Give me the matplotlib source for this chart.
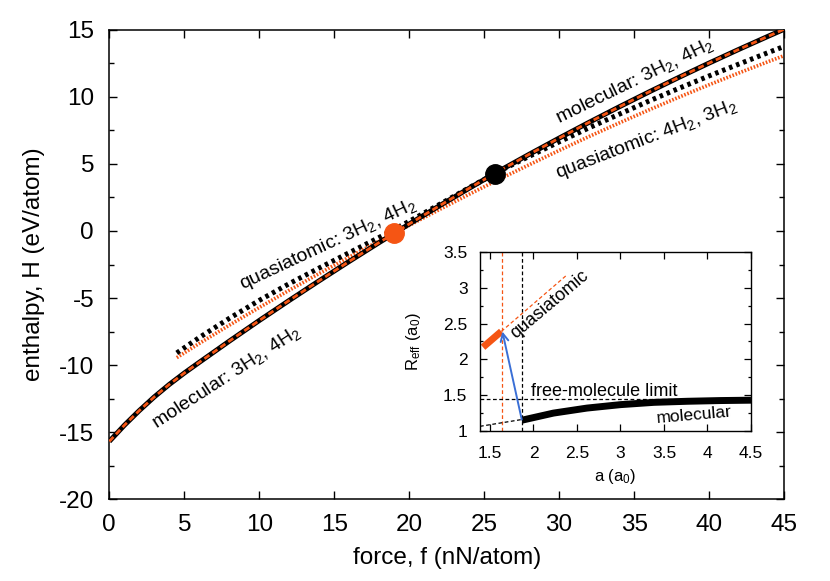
import matplotlib
matplotlib.use('Agg')
import matplotlib.pyplot as plt
from matplotlib.ticker import MultipleLocator

plt.rcParams['font.family'] = ['Liberation Sans', 'DejaVu Sans']
plt.rcParams['mathtext.fontset'] = 'custom'
plt.rcParams['mathtext.rm'] = 'Liberation Sans'
plt.rcParams['mathtext.it'] = 'Liberation Sans:italic'
plt.rcParams['axes.unicode_minus'] = False

orange = '#f55514'
blue = '#3a6fd6'

# main panel: enthalpy vs force
f_mol = [0, 1, 2, 3, 4, 5, 6, 8, 10, 12, 14, 16, 18, 20, 22, 24, 26, 28, 30,
         32, 34, 36, 38, 40, 42, 44, 45]
H_mol = [-15.7, -14.5, -13.4, -12.38, -11.45, -10.6, -9.8, -8.22, -6.68, -5.18,
         -3.71, -2.27, -0.86, 0.52, 1.87, 3.19, 4.48, 5.72, 6.93, 8.11, 9.26,
         10.38, 11.47, 12.53, 13.56, 14.56, 15.05]

f_qa = [4.5, 6, 8, 10, 12, 14, 16, 18, 20, 22, 24, 26, 28, 30, 32, 34, 36, 38,
        40, 42, 44, 45]
H_qa3 = [-9.1, -7.95, -6.52, -5.18, -3.93, -2.76, -1.62, -0.48, 0.72, 1.97, 3.23,
         4.46, 5.57, 6.65, 7.7, 8.71, 9.7, 10.65, 11.57, 12.46, 13.34, 13.77]
H_qa4 = [-9.45, -8.39, -7.03, -5.71, -4.42, -3.17, -1.95, -0.75, 0.42, 1.59, 2.74,
         3.86, 4.94, 6.01, 7.05, 8.06, 9.04, 9.99, 10.91, 11.8, 12.66, 13.08]

trans_4 = (19.0, -0.12)
trans_3 = (25.7, 4.25)

# inset: effective radius vs lattice spacing
a_qa = [1.42, 1.63]
R_qa = [2.17, 2.39]
a_qa_ext = [1.63, 2.385]
R_qa_ext = [2.39, 3.18]
a_mol = [1.865, 2.23, 2.615, 3.0, 3.385, 3.77, 4.15, 4.5]
R_mol = [1.15, 1.25, 1.32, 1.368, 1.40, 1.415, 1.425, 1.43]
a_mol_ext = [1.385, 1.865]
R_mol_ext = [1.065, 1.16]
R_free = 1.44
a_crit_qa = 1.642
a_crit_mol = 1.865

fig = plt.figure(figsize=(8.3, 5.81), dpi=100)
ax = fig.add_axes([0.1317, 0.1411, 0.8129, 0.8073])

ax.plot(f_mol, H_mol, color='black', lw=3.6, solid_capstyle='butt', zorder=3)
ax.plot(f_mol, H_mol, color=orange, lw=2.0, dashes=(2.2, 1.3), zorder=4)
ax.plot(f_qa, H_qa3, color='black', lw=3.6, dashes=(0.7, 0.8), zorder=2)
ax.plot(f_qa, H_qa4, color=orange, lw=2.6, dashes=(0.45, 0.45), zorder=2)
ax.plot(*trans_4, 'o', color=orange, ms=14, zorder=5)
ax.plot(*trans_3, 'o', color='black', ms=14, zorder=5)

ax.text(14.6, -1.0, r'quasiatomic: 3H$_\mathregular{2}$, 4H$_\mathregular{2}$', rotation=25,
        ha='center', va='center', fontsize=14, rotation_mode='anchor')
ax.text(7.8, -10.9, r'molecular: 3H$_\mathregular{2}$, 4H$_\mathregular{2}$', rotation=33,
        ha='center', va='center', fontsize=14, rotation_mode='anchor')
ax.text(35.0, 11.2, r'molecular: 3H$_\mathregular{2}$, 4H$_\mathregular{2}$', rotation=26,
        ha='center', va='center', fontsize=14, rotation_mode='anchor')
ax.text(35.8, 6.8, r'quasiatomic: 4H$_\mathregular{2}$, 3H$_\mathregular{2}$', rotation=21,
        ha='center', va='center', fontsize=14, rotation_mode='anchor')

ax.set_xlim(0, 45)
ax.set_ylim(-20, 15)
ax.xaxis.set_major_locator(MultipleLocator(5))
ax.yaxis.set_major_locator(MultipleLocator(5))
ax.yaxis.set_minor_locator(MultipleLocator(2.5))
ax.tick_params(which='both', direction='in', top=True, right=True, width=1, labelsize=17.5, pad=11)
ax.tick_params(which='major', length=6)
ax.tick_params(which='minor', length=3.5)
for s in ax.spines.values():
    s.set_linewidth(1.1)
ax.set_xlabel('force, f (nN/atom)', fontsize=17.5, labelpad=8)
ax.set_ylabel('enthalpy, H (eV/atom)', fontsize=17.5, labelpad=10)

# inset
ins = fig.add_axes([0.5783, 0.2582, 0.3265, 0.3081])
ins.axvline(a_crit_qa, color=orange, lw=0.9, dashes=(3, 2))
ins.axvline(a_crit_mol, color='black', lw=0.9, dashes=(3, 2))
ins.axhline(R_free, color='black', lw=0.9, dashes=(3, 2))
ins.plot(a_mol_ext, R_mol_ext, color='black', lw=0.9, dashes=(3, 2))
ins.plot(a_qa_ext, R_qa_ext, color=orange, lw=0.9, dashes=(3, 2))
ins.plot(a_qa, R_qa, color=orange, lw=5, solid_capstyle='butt')
ins.plot(a_mol, R_mol, color='black', lw=5, solid_capstyle='butt')
ins.annotate('', xy=(a_crit_qa, R_qa[-1]), xytext=(a_crit_mol, R_mol[0] + 0.01),
             arrowprops=dict(arrowstyle='->', color=blue, lw=1.4, mutation_scale=14,
                             shrinkA=0, shrinkB=0))
ins.text(2.19, 2.76, 'quasiatomic', rotation=40, ha='center', va='center',
         fontsize=13, rotation_mode='anchor')
ins.text(2.81, 1.55, 'free-molecule limit', ha='center', va='center', fontsize=13)
ins.text(3.85, 1.225, 'molecular', rotation=5, ha='center', va='center',
         fontsize=12.5, rotation_mode='anchor')

ins.set_xlim(1.385, 4.5)
ins.set_ylim(1, 3.5)
ins.yaxis.set_minor_locator(MultipleLocator(0.25))
ins.set_xticks([1.5, 2, 2.5, 3, 3.5, 4, 4.5], ['1.5', '2', '2.5', '3', '3.5', '4', '4.5'])
ins.set_yticks([1, 1.5, 2, 2.5, 3, 3.5], ['1', '1.5', '2', '2.5', '3', '3.5'])
ins.tick_params(which='both', direction='in', top=True, right=True, width=0.9, labelsize=12.5)
ins.tick_params(axis='x', pad=11)
ins.tick_params(axis='y', pad=9)
ins.tick_params(which='major', length=5)
ins.tick_params(which='minor', length=2.5)
for s in ins.spines.values():
    s.set_linewidth(1.0)
ins.set_xlabel(r'a (a$_\mathregular{0}$)', fontsize=12, labelpad=4)
ins.set_ylabel(r'R$_\mathregular{eff}$ (a$_\mathregular{0}$)', fontsize=12)
ins.yaxis.set_label_coords(-0.21, 0.5)

fig.savefig('out.png', dpi=100)
